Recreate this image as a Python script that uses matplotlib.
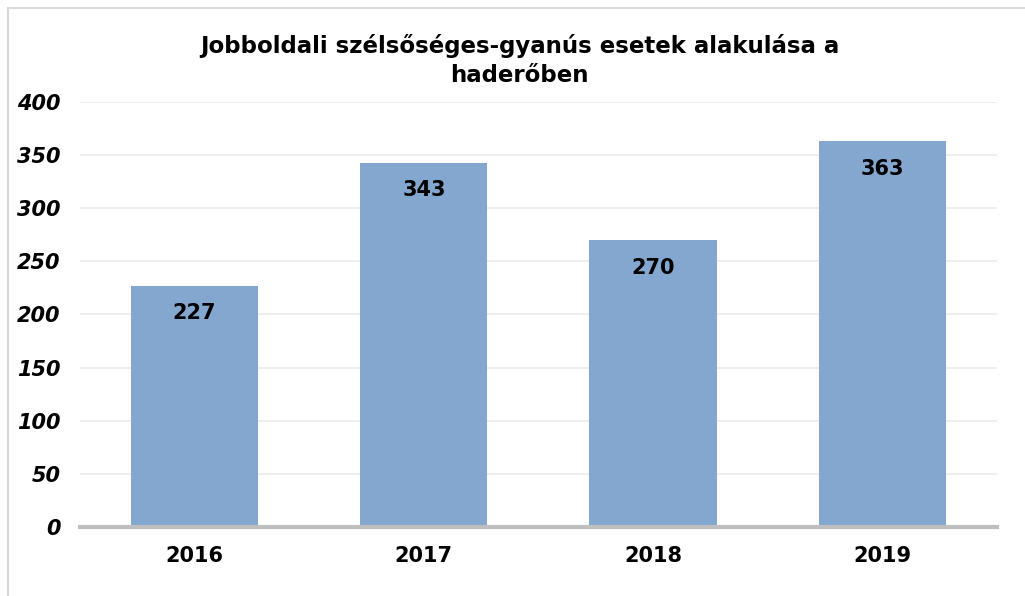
import matplotlib.pyplot as plt
from matplotlib.patches import Rectangle

years = ["2016", "2017", "2018", "2019"]
cases = [227, 343, 270, 363]
yticks = [0, 50, 100, 150, 200, 250, 300, 350, 400]

bar_color = "#84A7CF"

fig = plt.figure(figsize=(10.25, 5.96), dpi=100)
ax = fig.add_axes([0.078, 0.1158, 0.8947, 0.7131])

x = list(range(len(years)))
bars = ax.bar(x, cases, width=0.555, color=bar_color, zorder=2)

for xi, v in zip(x, cases):
    ax.text(xi, v - 26, str(v), ha="center", va="center",
            fontsize=15, fontweight="bold", color="black", zorder=3)

ax.set_xlim(-0.5, len(years) - 0.5)
ax.set_ylim(0, 400)
ax.set_yticks(yticks)
ax.set_yticklabels([str(t) for t in yticks], fontsize=15,
                   fontweight="bold", fontstyle="italic")
ax.set_xticks(x)
ax.set_xticklabels(years, fontsize=15, fontweight="bold")
ax.tick_params(axis="y", length=0, pad=14)
ax.tick_params(axis="x", length=0, pad=14)

ax.grid(axis="y", color="#EBEBEB", linewidth=1.2, zorder=0)
for s in ["top", "right", "left"]:
    ax.spines[s].set_visible(False)
ax.spines["bottom"].set_color("#BFBFBF")
ax.spines["bottom"].set_linewidth(3)
ax.spines["bottom"].set_zorder(4)

fig.text(0.507, 0.899, "Jobboldali szélsőséges-gyanús esetek alakulása a\nhaderőben",
         ha="center", va="center", fontsize=16.5, fontweight="bold",
         linespacing=1.35)

# outer chart frame
fig.patches.append(Rectangle((8 / 1025, -0.05), 1.1, 1 - 8 / 596 + 0.05,
                             transform=fig.transFigure, fill=False,
                             edgecolor="#D9D9D9", linewidth=1.5))

fig.savefig("out.png", dpi=100)
